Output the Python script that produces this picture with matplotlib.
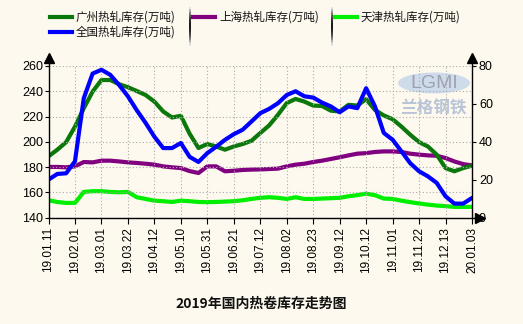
import numpy as np
import matplotlib
matplotlib.use("Agg")
import matplotlib.pyplot as plt
from matplotlib.patches import Ellipse

plt.rcParams['font.family'] = ['Liberation Sans', 'Noto Sans CJK SC', 'DejaVu Sans']

# week labels shown on the x axis (every third data point)
tick_labels = ['19.01.11', '19.02.01', '19.03.01', '19.03.22', '19.04.12', '19.05.10',
               '19.05.31', '19.06.21', '19.07.12', '19.08.02', '19.08.23', '19.09.12',
               '19.10.12', '19.11.01', '19.11.22', '19.12.13', '20.01.03']

# national inventory (left axis, 10k t)
quanguo = [170, 174.5, 175, 184.5, 234.5, 254, 257, 253, 245, 236, 225, 215, 204, 195, 195, 199,
           188, 184, 191, 196, 201.5, 206, 209.5, 216, 222.6, 226, 230.5, 237, 240, 236, 235, 231,
           228, 223.4, 228, 226.6, 242.4, 228, 207, 201.6, 192.4, 183, 176.6, 172.6, 167.4, 156.8,
           151, 151, 155.5]

# city inventories (right axis, 10k t)
guangzhou = [32.3, 35.8, 39.8, 48, 57.7, 66.5, 72.6, 72.6, 70.4, 68.8, 66.8, 64.7, 61.2, 56, 52.8,
             53.7, 44.2, 36.7, 38.8, 37.5, 35.8, 37.5, 38.8, 40.5, 44.6, 48.6, 54.2, 60.4, 62.6,
             61.2, 59.1, 58.9, 56.4, 56, 59.5, 59.1, 62.5, 56.8, 53.9, 51.9, 48, 43.7, 39.8, 37.5,
             33.2, 26.1, 24.4, 26.1, 27.4]
shanghai = [26.7, 26.7, 26.5, 27, 29.3, 29.1, 30, 30, 29.6, 29.1, 28.8, 28.4, 27.9, 27, 26.5, 26.1,
            24.5, 23.5, 27, 27, 24.4, 24.7, 25.1, 25.3, 25.4, 25.6, 25.8, 27, 27.9, 28.4, 29.3, 30,
            30.9, 31.8, 32.8, 33.7, 34, 34.6, 34.9, 34.9, 34.6, 33.7, 33.2, 32.8, 32.6, 31.4, 29.6,
            28.2, 27.5]
tianjin = [9.1, 8.2, 7.7, 7.7, 13.5, 13.9, 13.9, 13.5, 13.3, 13.5, 10.7, 9.8, 8.9, 8.6, 8.2, 8.9,
           8.6, 8.2, 8.1, 8.2, 8.4, 8.6, 9.1, 9.8, 10.4, 10.7, 10.4, 9.8, 10.7, 9.8, 9.8, 10, 10.2,
           10.4, 11.2, 11.8, 12.6, 11.8, 10, 9.8, 8.9, 8.1, 7.4, 6.8, 6.3, 6, 5.6, 5.6, 5.6]

bg = '#fdf9ee'
W, H = 523, 324
fig = plt.figure(figsize=(W / 100, H / 100), dpi=100, facecolor=bg)

x0, x1, y0, y1 = 48.5, 472, 66, 217.5
ax = fig.add_axes([x0 / W, 1 - y1 / H, (x1 - x0) / W, (y1 - y0) / H])
ax.set_facecolor(bg)
ax2 = ax.twinx()

x = np.arange(len(quanguo))
lw = 3.0
ax2.plot(x, tianjin, color='#00ee00', lw=lw, solid_joinstyle='round', solid_capstyle='round')
ax2.plot(x, shanghai, color='#800080', lw=lw, solid_joinstyle='round', solid_capstyle='round')
ax2.plot(x, guangzhou, color='#0a780a', lw=lw, solid_joinstyle='round', solid_capstyle='round')
ax.plot(x, quanguo, color='#0000ff', lw=lw, solid_joinstyle='round', solid_capstyle='round', zorder=5)
# keep the national line on top of the right-axis lines
ax.set_zorder(ax2.get_zorder() + 1)
ax.patch.set_visible(False)
ax2.patch.set_visible(True)
ax2.patch.set_facecolor(bg)
ax2.set_zorder(0)

ax.set_xlim(0, len(quanguo) - 1)
ax.set_ylim(140, 260)
ax2.set_ylim(0, 80)
ax.set_yticks(range(140, 261, 20))
ax2.set_yticks(range(0, 81, 20))
tick_pos = np.arange(0, len(quanguo), 3)
ax.set_xticks(tick_pos)
ax.set_xticklabels(tick_labels, rotation=90, fontsize=8.5)

ax.grid(True, color='#aaaaaa', linestyle=(0, (1, 2)), lw=0.8)
ax.set_axisbelow(True)

ax.tick_params(axis='y', direction='out', length=3, labelsize=9, pad=1)
ax.tick_params(axis='x', direction='out', length=4, pad=3)
ax2.tick_params(axis='y', direction='out', length=3, labelsize=9, pad=2)

for a in (ax, ax2):
    for s in a.spines.values():
        s.set_visible(False)

# axis lines with arrow heads
ax.plot([0, 0], [0, 1.045], transform=ax.transAxes, color='black', lw=1, clip_on=False, zorder=10)
ax.plot([1, 1], [0, 1.045], transform=ax.transAxes, color='black', lw=1, clip_on=False, zorder=10)
ax.plot([0, 1.015], [0, 0], transform=ax.transAxes, color='black', lw=1, clip_on=False, zorder=10)
ax.plot([0], [1.05], marker='^', ms=7, color='black', transform=ax.transAxes, clip_on=False, zorder=10)
ax.plot([1], [1.05], marker='^', ms=7, color='black', transform=ax.transAxes, clip_on=False, zorder=10)
ax.plot([1.02], [0], marker='>', ms=7, color='black', transform=ax.transAxes, clip_on=False, zorder=10)

# watermark logo
logo = Ellipse((434 / W, 1 - 83 / H), 72 / W, 21 / H, transform=fig.transFigure,
               facecolor='#a9c3e9', edgecolor='none', alpha=0.55, zorder=1)
fig.add_artist(logo)
fig.text(434 / W, 1 - 83 / H, 'LGMI', ha='center', va='center', fontsize=14,
         color='#8f8f9c', alpha=0.75, family=['Liberation Sans'])
fig.text(433 / W, 1 - 108 / H, '兰格钢铁', ha='center', va='center', fontsize=12,
         fontweight='bold', color='#a8b8d2', alpha=0.8, family=['Noto Sans CJK SC'])

# legend drawn by hand in three columns
cjk = ['Noto Sans CJK SC', 'DejaVu Sans']
items = [(50, 17, '#0a780a', '广州热轧库存(万吨)'),
         (50, 32, '#0000ff', '全国热轧库存(万吨)'),
         (193, 17, '#800080', '上海热轧库存(万吨)'),
         (335, 17, '#00ee00', '天津热轧库存(万吨)')]
for lx, ly, col, txt in items:
    fig.add_artist(plt.Line2D([lx / W, (lx + 22) / W], [1 - ly / H, 1 - ly / H],
                              color=col, lw=3, transform=fig.transFigure))
    fig.text((lx + 26) / W, 1 - ly / H, txt, ha='left', va='center', fontsize=8.3,
             family=cjk, color='#111111')

# vertical separators with a soft gradient
for sx in (190, 332):
    ys = np.linspace(8, 45, 20)
    for k in range(len(ys) - 1):
        t = abs((ys[k] + ys[k + 1]) / 2 - 26.5) / 18.5
        g = min(1.0, 0.05 + 0.9 * t ** 2)
        fig.add_artist(plt.Line2D([sx / W, sx / W], [1 - ys[k] / H, 1 - ys[k + 1] / H],
                                  color=(g, g, g), lw=1.2, transform=fig.transFigure))

fig.text(261 / W, 1 - 304 / H, '2019年国内热卷库存走势图', ha='center', va='center',
         fontsize=10, fontweight='bold', family=cjk, color='#111111')

fig.savefig('out.png', dpi=100, facecolor=bg)
